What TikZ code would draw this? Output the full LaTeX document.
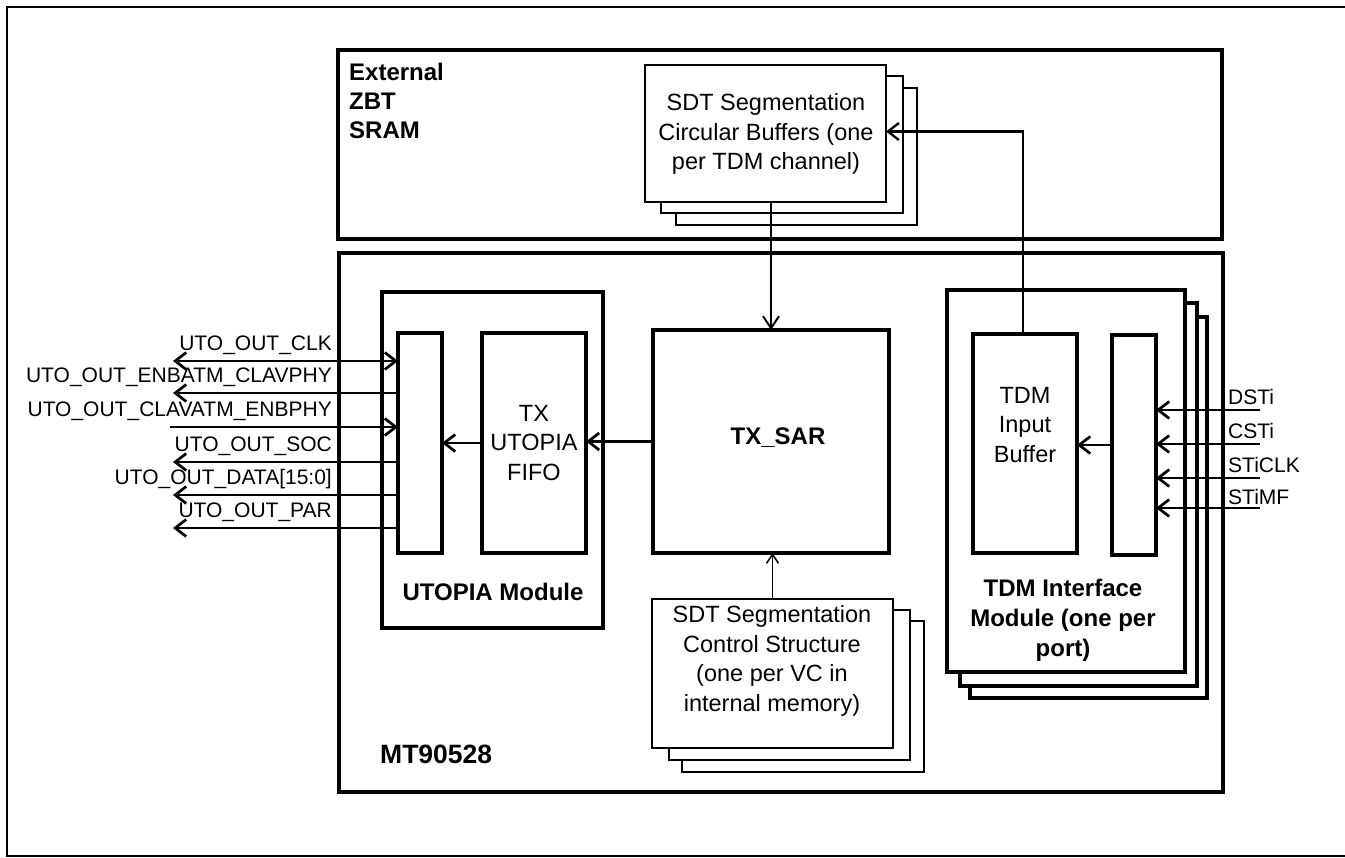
\documentclass[tikz,border=0pt]{standalone}
\usepackage{fontspec}
\setmainfont{Liberation Sans}
\usetikzlibrary{arrows.meta,calc}
\newcommand\rbox[6]{\node[#6, minimum width={(#4-#2)*1pt}, minimum height={(#5-#3)*1pt}] (#1) at ({(#2+#4)/2},{(#3+#5)/2}) {};}
\begin{document}
\begin{tikzpicture}[x=1pt,y=-1pt,
  blk/.style={draw, line width=3.1pt, fill=white, inner sep=0pt, outer sep=0pt},
  bblk/.style={draw, line width=2.1pt, fill=white, inner sep=0pt, outer sep=0pt},
  txt/.style={font=\fontsize{23.5}{29.5}\selectfont, align=center, inner sep=0pt},
  btxt/.style={font=\fontsize{24}{30}\selectfont\bfseries, align=center, inner sep=0pt},
  lbl/.style={font=\fontsize{21}{25}\selectfont, inner sep=0pt},
  arr/.style={line width=2.7pt, -{Straight Barb[length=11pt,width=17pt]}},
  darr/.style={line width=2.7pt, {Straight Barb[length=11pt,width=17pt]}-{Straight Barb[length=11pt,width=17pt]}},
  varr/.style={line width=2pt, -{Straight Barb[length=12pt,width=16pt]}},
  sarr/.style={line width=1.5pt, -{Straight Barb[length=9pt,width=12pt]}}
]
\clip (0,0) rectangle (1345,858);
\fill[white] (0,0) rectangle (1345,858);
% outer frame
\draw[line width=2.8pt] (1400,7) -- (7,7) -- (7,856) -- (1400,856);

% External SRAM
\rbox{sram}{338}{50}{1222}{239}{blk}
\node[btxt, anchor=west, align=left] (ext) at (349,72) {External};
\node[btxt, anchor=west, align=left] (zbt) at (349,101) {ZBT};
\node[btxt, anchor=west, align=left] (sr) at (349,130) {SRAM};

% circular buffers stack
\rbox{cb3}{676}{88}{917}{225}{bblk}
\rbox{cb2}{661}{76}{903}{213}{bblk}
\rbox{cb1}{645}{65}{886}{202}{bblk}
\node[txt] (cbt) at (766,134) {SDT Segmentation\\Circular Buffers (one\\per TDM channel)};

% MT90528 chip
\rbox{mt}{339}{253}{1223}{792}{blk}
\node[btxt, font=\fontsize{26.5}{30}\selectfont\bfseries, anchor=west] (mtl) at (380,754) {MT90528};

% UTOPIA module
\rbox{utop}{382}{292}{603}{628}{blk}
\rbox{usmall}{398}{333}{442}{553}{blk}
\rbox{fifo}{482}{333}{586}{553}{blk}
\node[txt] (fifot) at (534,443) {TX\\UTOPIA\\FIFO};
\node[btxt] (utopt) at (493,592) {UTOPIA Module};

% TX_SAR
\rbox{txsar}{653}{330}{889}{553}{blk}
\node[btxt] (txsart) at (778,438) {TX\_SAR};

% control structure stack
\rbox{cs3}{682}{621}{924}{772}{bblk}
\rbox{cs2}{669}{610}{910}{760}{bblk}
\rbox{cs1}{652}{599}{893}{748}{bblk}
\node[txt] (cst) at (772,661) {SDT Segmentation\\Control Structure\\(one per VC in\\internal memory)};

% TDM interface stack
\rbox{tdm3}{970}{317}{1207}{698}{blk}
\rbox{tdm2}{960}{303}{1197}{686}{blk}
\rbox{tdm1}{947}{290}{1185}{672}{blk}
\rbox{tib}{973}{334}{1077}{553}{blk}
\rbox{tsmall}{1112}{335}{1156}{555}{blk}
\node[txt] (tibt) at (1025,425) {TDM\\Input\\Buffer};
\node[btxt] (tdmt) at (1063,620) {TDM Interface\\Module (one per\\port)};

% internal connectors
\draw[varr] (cb1.south -| txsar.north) -- (txsar.north);
\draw[sarr] (cs1.north) -- (cs1.north |- txsar.south);
\draw[arr] (txsar.west) -- (txsar.west -| fifo.east);
\draw[arr] (fifo.west) -- (fifo.west -| usmall.east);
\draw[arr] (tsmall.west) -- (tsmall.west -| tib.east);
\draw[arr, line width=2.3pt] ([xshift=-2pt]tib.north) |- ([yshift=2pt]cb1.east);

% left signals
\coordinate (lclk) at (173,361);
\coordinate (lenb) at (173,393);
\coordinate (lclav) at (170,427);
\coordinate (lsoc) at (173,462);
\coordinate (ldata) at (173,495);
\coordinate (lpar) at (173,528);
\draw[darr] (lclk) -- (lclk -| usmall.west);
\draw[arr] ([xshift=2pt]lenb -| usmall.west) -- (lenb);
\draw[arr] (lclav) -- (lclav -| usmall.west);
\draw[arr] (lsoc -| usmall.west) -- (lsoc);
\draw[arr] (ldata -| usmall.west) -- (ldata);
\draw[arr] (lpar -| usmall.west) -- (lpar);
\node[lbl, anchor=base east] (tclk) at (332,351) {UTO\_OUT\_CLK};
\node[lbl, anchor=base east] (tenb) at (332,383) {UTO\_OUT\_ENBATM\_CLAVPHY};
\node[lbl, anchor=base east] (tclav) at (332,417) {UTO\_OUT\_CLAVATM\_ENBPHY};
\node[lbl, anchor=base east] (tsoc) at (332,452) {UTO\_OUT\_SOC};
\node[lbl, anchor=base east] (tdata) at (332,485) {UTO\_OUT\_DATA[15:0]};
\node[lbl, anchor=base east] (tpar) at (332,518) {UTO\_OUT\_PAR};

% right signals
\coordinate (rdst) at (1260,410);
\coordinate (rcst) at (1260,444);
\coordinate (rclk) at (1260,478);
\coordinate (rmf) at (1260,508);
\draw[arr] (rdst) -- (rdst -| tsmall.east);
\draw[arr] (rcst) -- (rcst -| tsmall.east);
\draw[arr] (rclk) -- (rclk -| tsmall.east);
\draw[arr] (rmf) -- (rmf -| tsmall.east);
\node[lbl, anchor=base west] (tdst) at (1228,405) {DSTi};
\node[lbl, anchor=base west] (tcst) at (1228,439) {CSTi};
\node[lbl, anchor=base west] (tstclk) at (1228,473) {STiCLK};
\node[lbl, anchor=base west] (tstmf) at (1228,504) {STiMF};
\end{tikzpicture}
\end{document}
